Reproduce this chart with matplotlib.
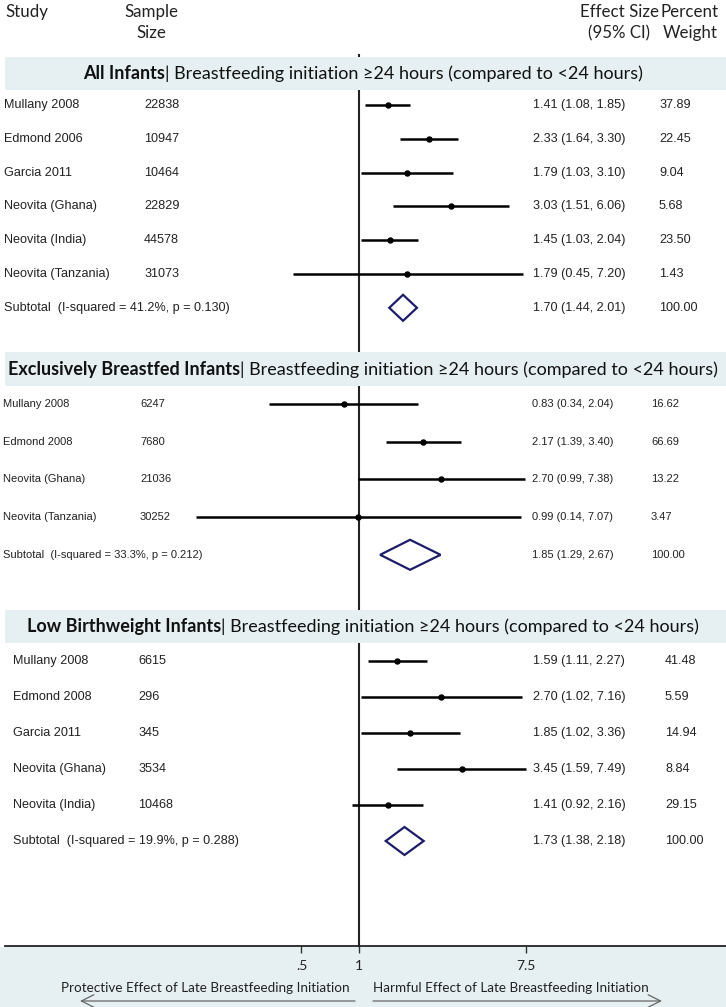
import numpy as np
import matplotlib
matplotlib.use("Agg")
import matplotlib.pyplot as plt
from matplotlib import transforms
from matplotlib.offsetbox import TextArea, HPacker, AnnotationBbox
from matplotlib.patches import Rectangle, FancyArrowPatch

# ---------------- data ----------------
s1_study = ["Mullany 2008", "Edmond 2006", "Garcia 2011", "Neovita (Ghana)", "Neovita (India)", "Neovita (Tanzania)"]
s1_n = [22838, 10947, 10464, 22829, 44578, 31073]
s1_es = [1.41, 2.33, 1.79, 3.03, 1.45, 1.79]
s1_lo = [1.08, 1.64, 1.03, 1.51, 1.03, 0.45]
s1_hi = [1.85, 3.30, 3.10, 6.06, 2.04, 7.20]
s1_w = [37.89, 22.45, 9.04, 5.68, 23.50, 1.43]
s1_sub = [1.70, 1.44, 2.01]
s1_i2, s1_p = 41.2, 0.130

s2_study = ["Mullany 2008", "Edmond 2008", "Neovita (Ghana)", "Neovita (Tanzania)"]
s2_n = [6247, 7680, 21036, 30252]
s2_es = [0.83, 2.17, 2.70, 0.99]
s2_lo = [0.34, 1.39, 0.99, 0.14]
s2_hi = [2.04, 3.40, 7.38, 7.07]
s2_w = [16.62, 66.69, 13.22, 3.47]
s2_sub = [1.85, 1.29, 2.67]
s2_i2, s2_p = 33.3, 0.212

s3_study = ["Mullany 2008", "Edmond 2008", "Garcia 2011", "Neovita (Ghana)", "Neovita (India)"]
s3_n = [6615, 296, 345, 3534, 10468]
s3_es = [1.59, 2.70, 1.85, 3.45, 1.41]
s3_lo = [1.11, 1.02, 1.02, 1.59, 0.92]
s3_hi = [2.27, 7.16, 3.36, 7.49, 2.16]
s3_w = [41.48, 5.59, 14.94, 8.84, 29.15]
s3_sub = [1.73, 1.38, 2.18]
s3_i2, s3_p = 19.9, 0.288

group_bold = ["All Infants", "Exclusively Breastfed Infants", "Low Birthweight Infants"]
group_rest = "| Breastfeeding initiation \u226524 hours (compared to <24 hours)"

tick_vals = [0.5, 1, 7.5]
tick_labels = [".5", "1", "7.5"]
left_note = "Protective Effect of Late Breastfeeding Initiation"
right_note = "Harmful Effect of Late Breastfeeding Initiation"

# ---------------- layout / style ----------------
W, H = 726, 1007
AX_LEFT, AX_BOTTOM_PX = 5, 946
X_ONE, PX_PER_LN = 359, 83.0
BAND = "#e6eff1"
NAVY = "#1c1c6b"
TXT = "Liberation Sans"
CAL = "Lato"

fig = plt.figure(figsize=(W / 100, H / 100), dpi=100)
# bottom band (behind the axes)
fig.patches.append(Rectangle((0, 0), 1, (H - AX_BOTTOM_PX - 1) / H, transform=fig.transFigure,
                             facecolor=BAND, edgecolor="none", zorder=-5))

ax = fig.add_axes([AX_LEFT / W, (H - AX_BOTTOM_PX) / H, (W - AX_LEFT) / W, AX_BOTTOM_PX / H])
ax.set_zorder(1)
ax.patch.set_alpha(0)
ax.set_xscale("log")
ax.set_xlim(np.exp((AX_LEFT - X_ONE) / PX_PER_LN), np.exp((W - X_ONE) / PX_PER_LN))
ax.set_ylim(AX_BOTTOM_PX, 0)
for s in ["top", "left", "right"]:
    ax.spines[s].set_visible(False)
ax.spines["bottom"].set_linewidth(1.3)
ax.spines["bottom"].set_color("#222222")
ax.set_yticks([])
ax.xaxis.set_minor_locator(matplotlib.ticker.NullLocator())
ax.set_xticks(tick_vals)
ax.set_xticklabels(tick_labels, fontfamily=CAL, fontsize=10)
ax.tick_params(axis="x", length=5, width=1, color="#333333", pad=5, labelcolor="#222222")

# null line
ax.plot([1, 1], [55, AX_BOTTOM_PX], color="#222222", lw=1.5, zorder=2, clip_on=False)

tr = transforms.blended_transform_factory(fig.transFigure, ax.transData)

def fx(px):
    return px / W

# header
hdr = dict(fontfamily=CAL, fontsize=12.2, color="#222222", va="center", transform=tr)
ax.text(fx(5), 12, "Study", ha="left", **hdr)
ax.text(fx(151), 12, "Sample", ha="center", **hdr)
ax.text(fx(151), 33, "Size", ha="center", **hdr)
ax.text(fx(619), 12, "Effect Size", ha="center", **hdr)
ax.text(fx(619), 33, "(95% CI)", ha="center", **hdr)
ax.text(fx(690), 12, "Percent", ha="center", **hdr)
ax.text(fx(690), 33, "Weight", ha="center", **hdr)

sections = [
    dict(study=s1_study, n=s1_n, es=s1_es, lo=s1_lo, hi=s1_hi, w=s1_w, sub=s1_sub, i2=s1_i2, p=s1_p,
         band=(57, 90), y0=105, dy=33.8, xs=4, xn=144, xe=533, xw=659, fs=9.1, dh=13),
    dict(study=s2_study, n=s2_n, es=s2_es, lo=s2_lo, hi=s2_hi, w=s2_w, sub=s2_sub, i2=s2_i2, p=s2_p,
         band=(352, 386), y0=404, dy=37.7, xs=3, xn=140, xe=532, xw=651, fs=8.0, dh=15),
    dict(study=s3_study, n=s3_n, es=s3_es, lo=s3_lo, hi=s3_hi, w=s3_w, sub=s3_sub, i2=s3_i2, p=s3_p,
         band=(610, 643), y0=661, dy=36.0, xs=13, xn=138, xe=533, xw=665, fs=9.1, dh=14),
]

for k, sec in enumerate(sections):
    b0, b1 = sec["band"]
    ax.axhspan(b0, b1, facecolor=BAND, edgecolor="none", zorder=3)
    t_b = TextArea(group_bold[k], textprops=dict(fontfamily=CAL, fontsize=13, fontweight="bold", color="#111111"))
    t_r = TextArea(group_rest, textprops=dict(fontfamily=CAL, fontsize=13, color="#111111"))
    pack = HPacker(children=[t_b, t_r], sep=0, pad=0, align="baseline")
    ab = AnnotationBbox(pack, (fx(363), (b0 + b1) / 2), xycoords=tr, frameon=False,
                        box_alignment=(0.5, 0.5), pad=0, zorder=4)
    ax.add_artist(ab)

    nrow = len(sec["study"])
    ys = [sec["y0"] + i * sec["dy"] for i in range(nrow + 1)]
    tp = dict(fontfamily=TXT, fontsize=sec["fs"], color="#222222", va="center", transform=tr)
    for i in range(nrow):
        y = ys[i]
        ax.text(fx(sec["xs"]), y, sec["study"][i], ha="left", **tp)
        ax.text(fx(sec["xn"]), y, str(sec["n"][i]), ha="left", **tp)
        ax.text(fx(sec["xe"]), y, f"{sec['es'][i]:.2f} ({sec['lo'][i]:.2f}, {sec['hi'][i]:.2f})", ha="left", **tp)
        ax.text(fx(sec["xw"]), y, f"{sec['w'][i]:.2f}", ha="left", **tp)
        ax.plot([sec["lo"][i], sec["hi"][i]], [y, y], color="black", lw=1.8, zorder=5, solid_capstyle="butt")
        ax.plot([sec["es"][i]], [y], "o", color="black", ms=3.6, zorder=6)
    ysub = ys[-1]
    est, lo, hi = sec["sub"]
    ax.text(fx(sec["xs"]), ysub, f"Subtotal  (I-squared = {sec['i2']:.1f}%, p = {sec['p']:.3f})", ha="left", **tp)
    ax.text(fx(sec["xe"]), ysub, f"{est:.2f} ({lo:.2f}, {hi:.2f})", ha="left", **tp)
    ax.text(fx(sec["xw"]), ysub, f"{100:.2f}", ha="left", **tp)
    h = sec["dh"]
    ax.fill([lo, est, hi, est, lo], [ysub, ysub - h, ysub, ysub + h, ysub],
            facecolor="none", edgecolor=NAVY, lw=1.6, zorder=6)

# bottom notes and arrows
def fy(py):
    return 1 - py / H

fig.text(fx(205), fy(988), left_note, ha="center", va="center", fontfamily=CAL, fontsize=9.7, color="#222222")
fig.text(fx(511), fy(988), right_note, ha="center", va="center", fontfamily=CAL, fontsize=9.7, color="#222222")
arr = dict(arrowstyle="->,head_length=0.9,head_width=0.45", mutation_scale=10,
           color="#666666", lw=0.9, shrinkA=0, shrinkB=0)
fig.add_artist(FancyArrowPatch((fx(355), fy(1001)), (fx(80), fy(1001)), transform=fig.transFigure, **arr))
fig.add_artist(FancyArrowPatch((fx(373), fy(1001)), (fx(662), fy(1001)), transform=fig.transFigure, **arr))

fig.savefig("out.png", dpi=100)
